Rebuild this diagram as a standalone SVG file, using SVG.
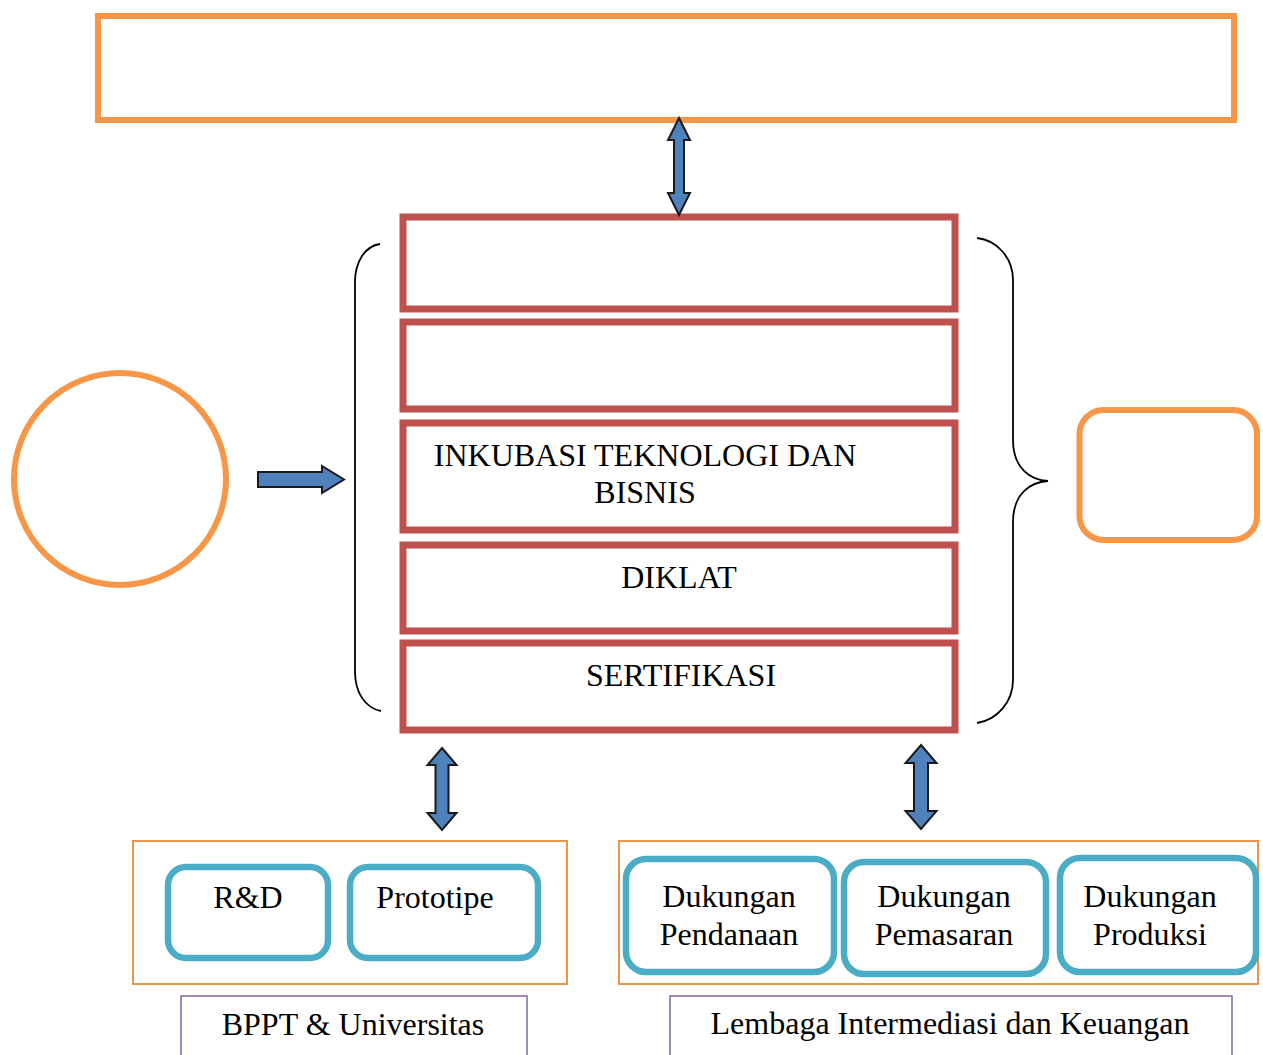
<svg xmlns="http://www.w3.org/2000/svg" width="1263" height="1055" viewBox="0 0 1263 1055">
<style>
.org{fill:none;stroke:#f79646;stroke-width:6;stroke-linecap:square}
.red{fill:none;stroke:#c0504d;stroke-width:7;stroke-linecap:square}
.blu{fill:none;stroke:#4bacc6;stroke-width:6.5}
.arr{fill:#4f81bd;stroke:#1a1a1a;stroke-width:2;stroke-linejoin:miter}
.brc{fill:none;stroke:#000;stroke-width:1.8}
.thinorg{fill:none;stroke:#e9954a;stroke-width:2}
.pur{fill:none;stroke:#8064a2;stroke-width:1.5}
text{font-family:"Liberation Serif","Times New Roman",serif;font-size:32px;fill:#000;text-anchor:middle}
.st{font-size:32px}
</style>
<rect width="1263" height="1055" fill="#fff"/>
<g id="top-box">
<path class="org" d="M98,16H1234M98,120H1234M98,16V120M1234,16V120"/>
</g>
<g id="left-circle"><circle cx="120" cy="479" r="106" fill="none" stroke="#f79646" stroke-width="6"/></g>
<g id="right-box"><rect x="1079.5" y="410" width="177.5" height="130" rx="24" fill="none" stroke="#f79646" stroke-width="6"/></g>
<g id="stack">
<g id="row1"><path class="red" d="M403,217H955M403,309H955M403,217V309M955,217V309"/></g>
<g id="row2"><path class="red" d="M403,322H955M403,409H955M403,322V409M955,322V409"/></g>
<g id="row3"><path class="red" d="M403,423H955M403,530H955M403,423V530M955,423V530"/>
<text class="st" x="645" y="466">INKUBASI TEKNOLOGI DAN</text>
<text class="st" x="645" y="503">BISNIS</text></g>
<g id="row4"><path class="red" d="M403,545H955M403,631H955M403,545V631M955,545V631"/>
<text class="st" x="679" y="588">DIKLAT</text></g>
<g id="row5"><path class="red" d="M403,643H955M403,730H955M403,643V730M955,643V730"/>
<text class="st" x="681" y="686">SERTIFIKASI</text></g>
</g>
<g id="left-bracket"><path class="brc" d="M380,244C365,246 355,262 355,282V672C355,692 365,708 381,711"/></g>
<g id="right-brace"><path class="brc" d="M977,238C997,240 1013,258 1013,280V440C1013,468 1030,480 1048,481C1030,482 1013,494 1013,522V680C1013,702 997,720 977,723"/></g>
<g id="group-left">
<rect class="thinorg" x="133" y="841" width="434" height="143"/>
<g id="rd"><rect class="blu" x="168" y="867" width="160" height="91" rx="18"/><text x="248" y="908">R&amp;D</text></g>
<g id="prototipe"><rect class="blu" x="350" y="867" width="188" height="91" rx="18"/><text x="435" y="908">Prototipe</text></g>
</g>
<g id="bppt"><rect class="pur" x="181" y="996" width="346" height="70"/><text x="353" y="1035">BPPT &amp; Universitas</text></g>
<g id="group-right">
<rect class="thinorg" x="619" y="841" width="639" height="143"/>
<g id="pendanaan"><rect class="blu" x="626" y="859" width="208" height="113" rx="20" stroke-width="7"/><text x="729" y="907">Dukungan</text><text x="729" y="945">Pendanaan</text></g>
<g id="pemasaran"><rect class="blu" x="844" y="862" width="202" height="112" rx="20" stroke-width="7"/><text x="944" y="907">Dukungan</text><text x="944" y="945">Pemasaran</text></g>
<g id="produksi"><rect class="blu" x="1060" y="858" width="196" height="114" rx="20" stroke-width="7"/><text x="1150" y="907">Dukungan</text><text x="1150" y="945">Produksi</text></g>
</g>
<g id="lembaga"><rect class="pur" x="670" y="996" width="562" height="70"/><text x="950" y="1034">Lembaga Intermediasi dan Keuangan</text></g>
<g id="connectors">
<polygon class="arr" points="679,118 690,140 684,140 684,193 690,193 679,215 668,193 674,193 674,140 668,140"/>
<polygon class="arr" points="258,472 322,472 322,466 344,479.5 322,493 322,487 258,487"/>
<polygon class="arr" points="442,748 456.5,765 448.5,765 448.5,813 456.5,813 442,830 427.5,813 435.5,813 435.5,765 427.5,765"/>
<polygon class="arr" points="921,745 936.5,763 928,763 928,811 936.5,811 921,829 905.5,811 914,811 914,763 905.5,763"/>
</g>
</svg>
